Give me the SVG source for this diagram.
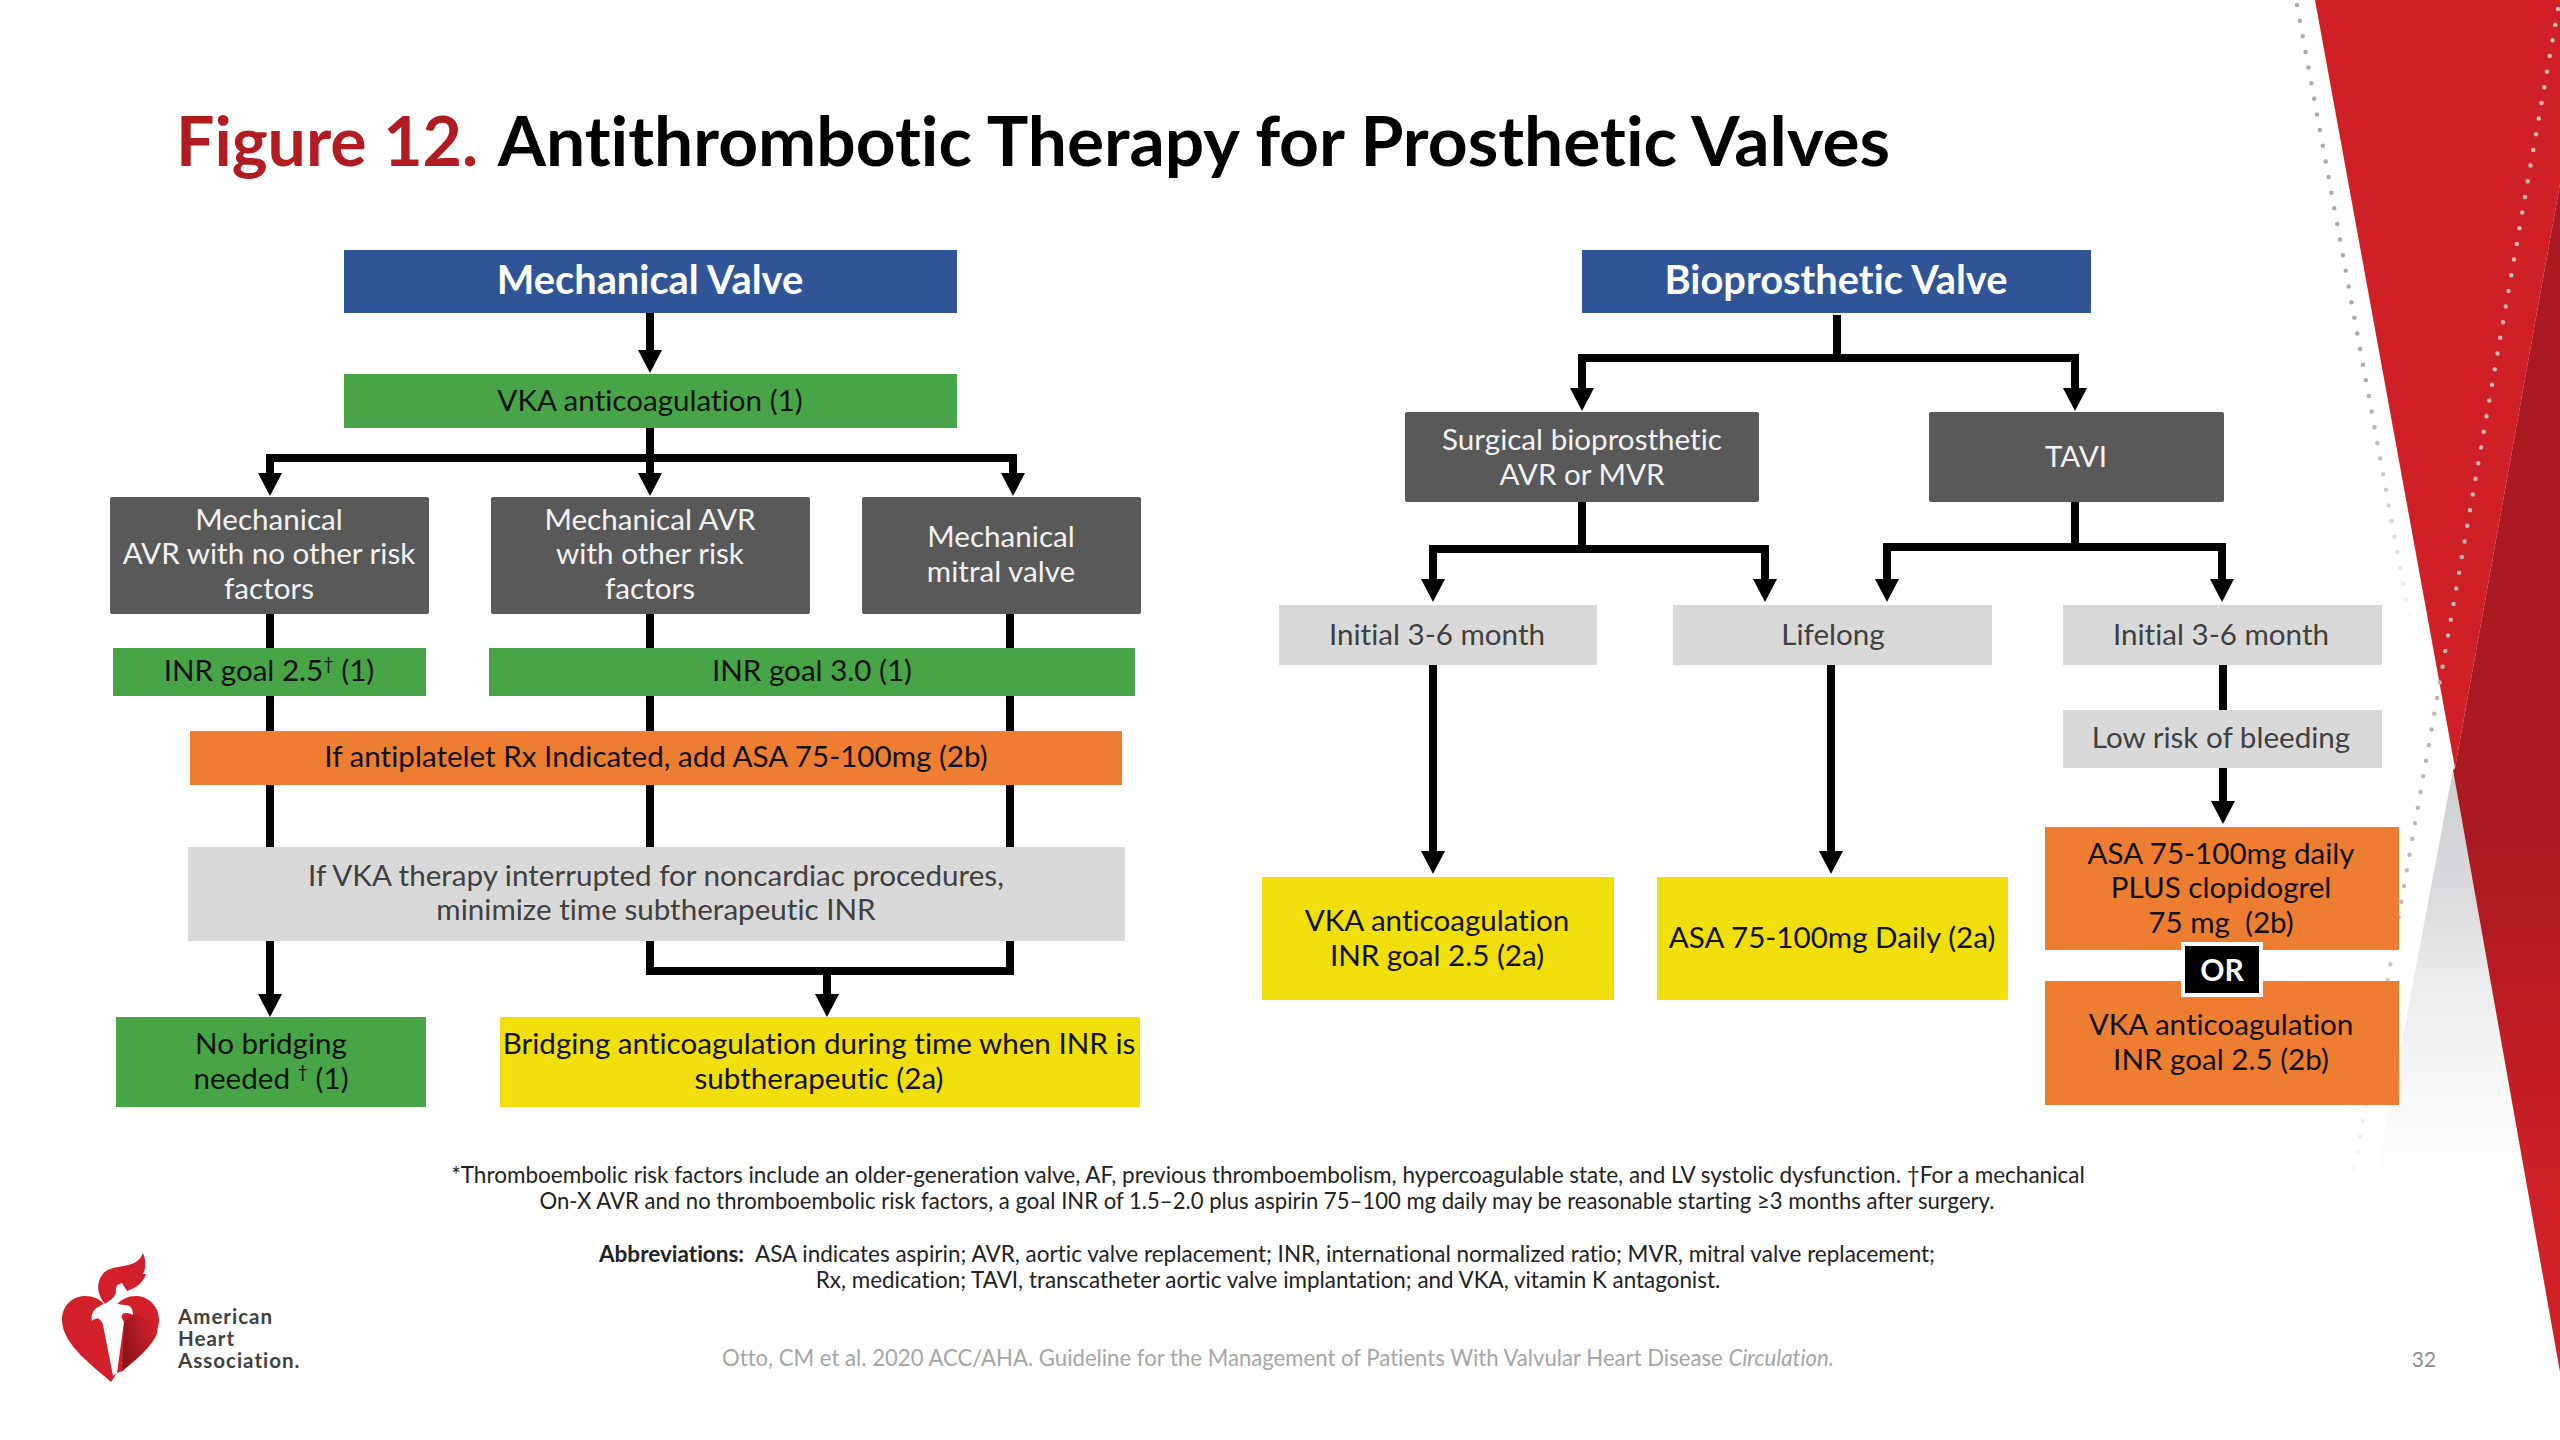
<svg xmlns="http://www.w3.org/2000/svg" width="2560" height="1440" viewBox="0 0 2560 1440">
<style>
text{font-family:Lato,"Liberation Sans",sans-serif;text-anchor:middle;font-variant-ligatures:none}
.n{font-size:29.6px}
.w{fill:#f2f2f2}.d{fill:#404040}.k{fill:#111}
.h{font-size:39.8px;font-weight:700;fill:#fff}
.b{fill:#2f5597}.g{fill:#47a547}.s{fill:#595959}.l{fill:#d9d9d9}.o{fill:#ed7d31}.y{fill:#f0df0c}
.c{fill:none;stroke:#000;stroke-width:8}
.a{marker-end:url(#ah)}
.f{font-size:22.5px;fill:#222}
</style>
<defs>
<marker id="ah" viewBox="0 0 23 24" refX="1" refY="12" markerWidth="23" markerHeight="24" markerUnits="userSpaceOnUse" orient="auto"><path d="M0 0L23 12L0 24z" fill="#000"/></marker>
<linearGradient id="dk" gradientUnits="userSpaceOnUse" x1="2560" y1="184" x2="2560" y2="1372"><stop offset="0.55" stop-color="#a9191f"/><stop offset="0.85" stop-color="#cf2027"/></linearGradient>
<linearGradient id="gy" gradientUnits="userSpaceOnUse" x1="0" y1="770" x2="0" y2="1200"><stop offset="0" stop-color="#cdd0d3"/><stop offset="0.3" stop-color="#d9dbdd"/><stop offset="0.5" stop-color="#ebeced"/><stop offset="0.8" stop-color="#fafafa"/><stop offset="1" stop-color="#fff"/></linearGradient>
<linearGradient id="d1" gradientUnits="userSpaceOnUse" x1="0" y1="0" x2="0" y2="640"><stop offset="0.6" stop-color="#aaa"/><stop offset="1" stop-color="#fff"/></linearGradient>
<linearGradient id="d2" gradientUnits="userSpaceOnUse" x1="0" y1="0" x2="0" y2="1200"><stop offset="0" stop-color="#d3bfae"/><stop offset="0.6" stop-color="#bdb5ad"/><stop offset="0.76" stop-color="#bbb"/><stop offset="1" stop-color="#fff"/></linearGradient>
<linearGradient id="hd" gradientUnits="userSpaceOnUse" x1="124" y1="1350" x2="155" y2="1340"><stop offset="0" stop-color="#8f1418"/><stop offset="1" stop-color="#c9202a"/></linearGradient>
</defs>

<g id="backdrop">
<path d="M2340 1372L2453 770L2560 1372z" fill="url(#gy)"/>
<path d="M2315 0H2560V184L2455 768z" fill="#cf2027"/>
<path d="M2560 184L2455 768L2453 770L2560 1372z" fill="url(#dk)"/>
<path d="M2297 5L2412 632" fill="none" stroke="url(#d1)" stroke-width="4.5" stroke-linecap="round" stroke-dasharray="0 15.9"/>
<path d="M2558 9L2350 1194" fill="none" stroke="url(#d2)" stroke-width="4.5" stroke-linecap="round" stroke-dasharray="0 15.9"/>
</g>

<g id="title"><text x="176" y="166" font-size="69.5" font-weight="700" style="text-anchor:start" fill="#b01c22"><tspan font-size="68">Figure 12.</tspan> <tspan fill="#000" dx="5">Antithrombotic Therapy for Prosthetic Valves</tspan></text></g>

<g id="connectors">
<path class="c a" d="M650 313V351"/>
<path class="c a" d="M650 428V474"/>
<path class="c a" d="M650 458H270V474"/>
<path class="c a" d="M650 458H1013V474"/>
<path class="c" d="M270 614V941"/>
<path class="c" d="M650 614V941"/>
<path class="c" d="M1010 614V941"/>
<path class="c a" d="M270 941V995"/>
<path class="c" d="M650 941V971H1010V941"/>
<path class="c a" d="M827 971V995"/>
<path class="c" d="M1837 315V358"/>
<path class="c a" d="M1837 358H1582V389"/>
<path class="c a" d="M1837 358H2075V389"/>
<path class="c" d="M1582 502V549"/>
<path class="c a" d="M1582 549H1433V580"/>
<path class="c a" d="M1582 549H1765V580"/>
<path class="c" d="M2075 502V547"/>
<path class="c a" d="M2075 547H1887V580"/>
<path class="c a" d="M2075 547H2222V580"/>
<path class="c a" d="M1433 665V852"/>
<path class="c a" d="M1831 665V852"/>
<path class="c" d="M2223 665V710"/>
<path class="c a" d="M2223 768V802"/>
</g>

<g id="mechanical-valve"><rect class="b" x="344" y="250" width="613" height="63"/><text class="h" x="650" y="294">Mechanical Valve</text></g>
<g id="vka-1"><rect class="g" x="344" y="374" width="613" height="54"/><text class="n k" x="650" y="411">VKA anticoagulation (1)</text></g>
<g id="mech-no-risk"><rect class="s" x="110" y="497" width="319" height="117" rx="2"/><text class="n w"><tspan x="269" y="530">Mechanical</tspan><tspan x="269" y="564">AVR with no other risk</tspan><tspan x="269" y="599">factors</tspan></text></g>
<g id="mech-risk"><rect class="s" x="491" y="497" width="319" height="117" rx="2"/><text class="n w"><tspan x="650" y="530">Mechanical AVR</tspan><tspan x="650" y="564">with other risk</tspan><tspan x="650" y="599">factors</tspan></text></g>
<g id="mech-mitral"><rect class="s" x="862" y="497" width="279" height="117" rx="2"/><text class="n w"><tspan x="1001" y="547">Mechanical</tspan><tspan x="1001" y="582">mitral valve</tspan></text></g>
<g id="inr-25"><rect class="g" x="113" y="648" width="313" height="48"/><text class="n k" x="269" y="681">INR goal 2.5<tspan font-size="18" dy="-11">†</tspan><tspan dy="11"> (1)</tspan></text></g>
<g id="inr-30"><rect class="g" x="489" y="648" width="646" height="48"/><text class="n k" x="812" y="681">INR goal 3.0 (1)</text></g>
<g id="antiplatelet"><rect class="o" x="190" y="731" width="932" height="54"/><text class="n k" x="656" y="767">If antiplatelet Rx Indicated, add ASA 75-100mg (2b)</text></g>
<g id="interrupted"><rect class="l" x="188" y="847" width="937" height="94"/><text class="n d"><tspan x="656" y="886">If VKA therapy interrupted for noncardiac procedures,</tspan><tspan x="656" y="920">minimize time subtherapeutic INR</tspan></text></g>
<g id="no-bridging"><rect class="g" x="116" y="1017" width="310" height="90"/><text class="n k"><tspan x="271" y="1054">No bridging</tspan><tspan x="271" y="1089">needed <tspan font-size="18" dy="-11">†</tspan><tspan dy="11"> (1)</tspan></tspan></text></g>
<g id="bridging"><rect class="y" x="500" y="1017" width="640" height="90"/><text class="n k"><tspan x="819" y="1054">Bridging anticoagulation during time when INR is</tspan><tspan x="819" y="1089">subtherapeutic (2a)</tspan></text></g>

<g id="bioprosthetic-valve"><rect class="b" x="1582" y="250" width="509" height="63"/><text class="h" x="1836" y="294">Bioprosthetic Valve</text></g>
<g id="surgical"><rect class="s" x="1405" y="412" width="354" height="90" rx="2"/><text class="n w"><tspan x="1582" y="450">Surgical bioprosthetic</tspan><tspan x="1582" y="485">AVR or MVR</tspan></text></g>
<g id="tavi"><rect class="s" x="1929" y="412" width="295" height="90" rx="2"/><text class="n w" x="2076" y="467">TAVI</text></g>
<g id="initial-1"><rect class="l" x="1279" y="605" width="318" height="60"/><text class="n d" x="1437" y="645">Initial 3-6 month</text></g>
<g id="lifelong"><rect class="l" x="1673" y="605" width="319" height="60"/><text class="n d" x="1833" y="645">Lifelong</text></g>
<g id="initial-2"><rect class="l" x="2063" y="605" width="319" height="60"/><text class="n d" x="2221" y="645">Initial 3-6 month</text></g>
<g id="low-risk"><rect class="l" x="2063" y="710" width="319" height="58"/><text class="n d" x="2221" y="748">Low risk of bleeding</text></g>
<g id="vka-25"><rect class="y" x="1262" y="877" width="352" height="123"/><text class="n k"><tspan x="1437" y="931">VKA anticoagulation</tspan><tspan x="1437" y="966">INR goal 2.5 (2a)</tspan></text></g>
<g id="asa-daily"><rect class="y" x="1657" y="877" width="351" height="123"/><text class="n k" x="1832" y="948">ASA 75-100mg Daily (2a)</text></g>
<g id="asa-clopidogrel"><rect class="o" x="2045" y="827" width="354" height="123"/><text class="n k"><tspan x="2221" y="864">ASA 75-100mg daily</tspan><tspan x="2221" y="898">PLUS clopidogrel</tspan><tspan x="2221" y="933">75 mg&#160; (2b)</tspan></text></g>
<g id="vka-2b"><rect class="o" x="2045" y="981" width="354" height="124"/><text class="n k"><tspan x="2221" y="1035">VKA anticoagulation</tspan><tspan x="2221" y="1070">INR goal 2.5 (2b)</tspan></text></g>
<g id="or"><rect x="2183" y="944" width="78" height="51" fill="#000" stroke="#fff" stroke-width="4"/><text x="2222" y="981" font-size="30" font-weight="700" fill="#fff">OR</text></g>

<g id="notes">
<text class="f" x="1268" y="1183">*Thromboembolic risk factors include an older-generation valve, AF, previous thromboembolism, hypercoagulable state, and LV systolic dysfunction. †For a mechanical</text>
<text class="f" x="1267" y="1209" style="font-size:22.1px">On-X AVR and no thromboembolic risk factors, a goal INR of 1.5–2.0 plus aspirin 75–100 mg daily may be reasonable starting ≥3 months after surgery.</text>
<text class="f" x="1267" y="1262"><tspan font-weight="700">Abbreviations:</tspan>&#160;&#160;ASA indicates aspirin; AVR, aortic valve replacement; INR, international normalized ratio; MVR, mitral valve replacement;</text>
<text class="f" x="1268" y="1288" style="font-size:22.4px">Rx, medication; TAVI, transcatheter aortic valve implantation; and VKA, vitamin K antagonist.</text>
<text x="1278" y="1366" font-size="22.15" fill="#a6a6a6">Otto, CM et al. 2020 ACC/AHA. Guideline for the Management of Patients With Valvular Heart Disease <tspan font-style="italic">Circulation.</tspan></text>
<text x="2424" y="1367" font-size="21" fill="#8c8c8c">32</text>
</g>

<g id="logo">
<path d="M111 1382C96 1368 62 1345 62 1320C62 1304 74 1296 85 1296C93 1296 100 1299 105 1305L116 1305C122 1299 128 1296 136 1296C148 1296 159 1306 159 1320C159 1340 135 1358 123 1371L117 1373z" fill="#d2202a"/>
<path d="M124 1322L133 1313C146 1318 157 1325 157.500 1332C153 1346 136 1360 122 1371z" fill="url(#hd)"/>
<path d="M92 1321C90 1312 96 1307 104 1304C106 1301 105 1298 108 1296C114 1302 118 1305 125 1305C130 1305 133 1308 133 1315C125 1311 118 1313 124 1322L117 1373L113 1376L103 1325C100 1316 95 1318 92 1321z" fill="#fff"/>
<path d="M105 1304C97 1295 96 1284 102 1275C108 1266 122 1268 134 1263C138 1261 141 1258 143 1253C146 1260 146 1268 143 1274L146 1274C143 1283 136 1288 127 1291L122 1283C117 1284 115 1287 116 1292C115 1298 110 1300 105 1304z" fill="#d2202a"/>
<g font-size="20.5" font-weight="700" fill="#404040" letter-spacing="1"><text x="178" y="1324" style="text-anchor:start">American</text><text x="178" y="1346" style="text-anchor:start">Heart</text><text x="178" y="1368" style="text-anchor:start">Association.</text></g>
</g>
</svg>
